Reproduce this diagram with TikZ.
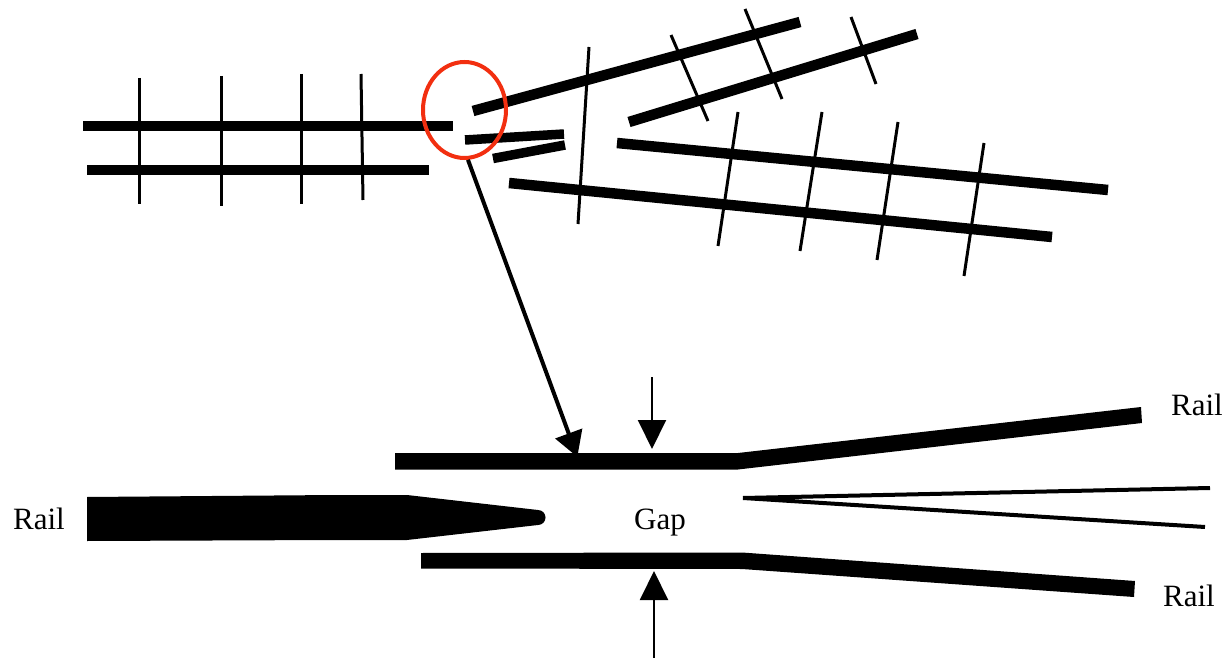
\documentclass[tikz,border=0pt]{standalone}
\usepackage{fontspec}
\setmainfont{Liberation Serif}
\usetikzlibrary{arrows.meta,shapes.geometric}
\tikzset{
  rail/.style={line width=10.5pt,line cap=butt},
  short rail/.style={line width=9.5pt,line cap=butt},
  tie/.style={line width=3pt,line cap=butt},
  solid rail/.style={fill=black,draw=none},
  thin rail/.style={line width=4pt,line cap=butt},
  label text/.style={font=\fontsize{31}{33}\selectfont,inner sep=0pt,text=black},
  gap arrow/.style={line width=2pt,-{Triangle[length=29pt,width=28pt]}},
  zoom arrow/.style={line width=4pt,-{Triangle[length=25pt,width=28pt]},shorten >=-1pt},
  lens/.style={ellipse,draw=lensred,line width=4pt,minimum width=83pt,minimum height=96pt,inner sep=0pt}
}
\definecolor{lensred}{HTML}{F22F10}
\begin{document}
\begin{tikzpicture}[x=1pt,y=-1pt]
\useasboundingbox (0,0) rectangle (1227,658);
% left track
\draw[rail] (83,126) -- (453,126);
\draw[rail] (87,170) -- (429,170);
\draw[tie] (139,78) -- (139,204);
\draw[tie] (221,76) -- (221,206);
\draw[tie] (301,74) -- (301,204);
\draw[tie] (361,74) -- (363,200);
% upper right track
\draw[rail] (473,111) -- (800,22);
\draw[rail] (629,122) -- (917,34);
\draw[tie] (589,47) -- (578,224);
\draw[tie] (671,35) -- (708,121);
\draw[tie] (745,9) -- (782,99);
\draw[tie] (851,17) -- (876,84);
% short pieces
\draw[short rail] (465,140) -- (564,134);
\draw[short rail] (493,158.5) -- (565,145);
% lower right track
\draw[rail] (617,143) -- (1108,190);
\draw[rail] (509,183) -- (1052,237);
\draw[tie] (738,112) -- (718,246);
\draw[tie] (822,112) -- (800,251);
\draw[tie] (898,122) -- (877,260);
\draw[tie] (984,143) -- (964,276);
% detail
\node[lens] (circle) at (464.5,110) {};
\fill[solid rail] (395,453) -- (738,453) -- (1141,407) -- (1142,423) -- (738,469.5) -- (395,469.5) -- cycle;
\fill[solid rail] (421,553) -- (742,552.5) -- (1135,581) -- (1134,597) -- (742,569) -- (421,568.5) -- cycle;
\fill[solid rail] (87,497) -- (336,495) -- (407,495) -- (538,510) arc[start angle=-90,end angle=90,radius=7.5] -- (407,540) -- (336,540) -- (87,541) -- cycle;
\draw[thin rail] (743,498) -- (1210,488);
\draw[thin rail] (743,498) -- (1205,527);
\coordinate (hit) at (577,456);
\coordinate (topfrom) at (652,377);
\coordinate (topto) at (652,449);
\coordinate (botfrom) at (654,658);
\coordinate (botto) at (654,571);
\draw[zoom arrow] (circle.-86) -- (hit);
\draw[gap arrow] (topfrom) -- (topto);
\draw[gap arrow] (botfrom) -- (botto);
\node[label text] (railA) at (39,519) {Rail};
\node[label text] (railB) at (1197,405) {Rail};
\node[label text] (railC) at (1189,596) {Rail};
\node[label text] (gap) at (660,523) {Gap};
\end{tikzpicture}
\end{document}
